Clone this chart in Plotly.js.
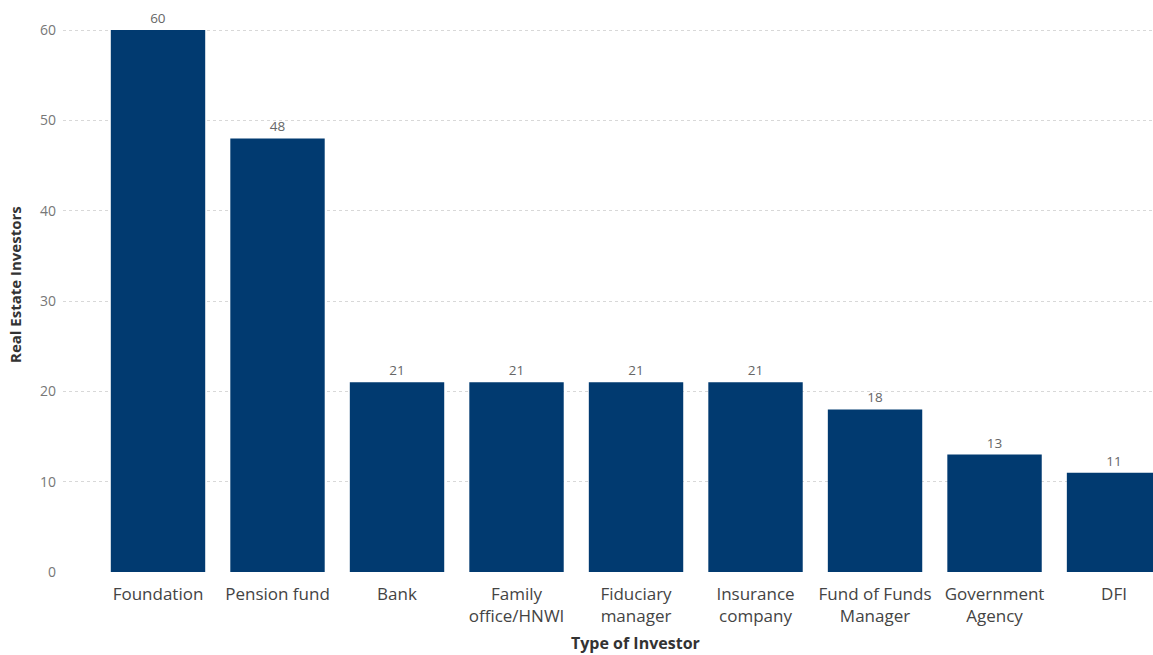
<!DOCTYPE html>
<html>
<head>
<meta charset="utf-8">
<script src="https://cdn.plot.ly/plotly-3.0.1.min.js"></script>
<style>html,body{margin:0;padding:0;background:#fff;}#chart{width:1153px;height:655px;}</style>
</head>
<body>
<div id="chart"></div>
<script>
const categories = ["Foundation", "Pension fund", "Bank", "Family<br>office/HNWI", "Fiduciary<br>manager", "Insurance<br>company", "Fund of Funds<br>Manager", "Government<br>Agency", "DFI"];
const investors = [60, 48, 21, 21, 21, 21, 18, 13, 11];
const yTicks = [0, 10, 20, 30, 40, 50, 60];

const font = "'Open Sans', 'Noto Sans', sans-serif";
const trace = {
  type: 'bar',
  x: categories.map((c, i) => i),
  y: investors,
  width: 0.79,
  marker: {color: '#013A70'},
  text: investors.map(String),
  textposition: 'outside',
  cliponaxis: false,
  textfont: {family: font, size: 13.5, color: '#666'},
  hoverinfo: 'skip'
};
const layout = {
  width: 1153, height: 655,
  margin: {l: 63, r: 0, t: 12, b: 83},
  paper_bgcolor: '#fff', plot_bgcolor: '#fff',
  showlegend: false,
  bargap: 0.21,
  xaxis: {
    range: [-0.795, 8.326],
    tickmode: 'array',
    tickvals: categories.map((c, i) => i),
    ticktext: categories,
    tickfont: {family: font, size: 17, color: '#444'},
    showgrid: false, zeroline: false, showline: false, ticks: '',
    ticklabelstandoff: 10,
    fixedrange: true
  },
  yaxis: {
    range: [0, 62],
    tickmode: 'array',
    tickvals: yTicks,
    tickfont: {family: font, size: 14, color: '#777'},
    showgrid: true, gridcolor: '#d8d8d8', griddash: 'dot', gridwidth: 1,
    zeroline: false, showline: false, ticks: '', ticklabelstandoff: 6,
    fixedrange: true
  },
  annotations: [
    {text: '<b>Type of Investor</b>', xref: 'paper', yref: 'paper', x: (635-63)/1090, y: -(643-572)/560,
     xanchor: 'center', yanchor: 'middle', showarrow: false, font: {family: font, size: 16, color: '#333'}},
    {text: '<b>Real Estate Investors</b>', xref: 'paper', yref: 'paper', x: -(63-15)/1090, y: (572-285)/560,
     xanchor: 'center', yanchor: 'middle', textangle: -90, showarrow: false, font: {family: font, size: 15, color: '#333'}}
  ]
};
Plotly.newPlot('chart', [trace], layout, {displayModeBar: false, staticPlot: true});
</script>
</body>
</html>
